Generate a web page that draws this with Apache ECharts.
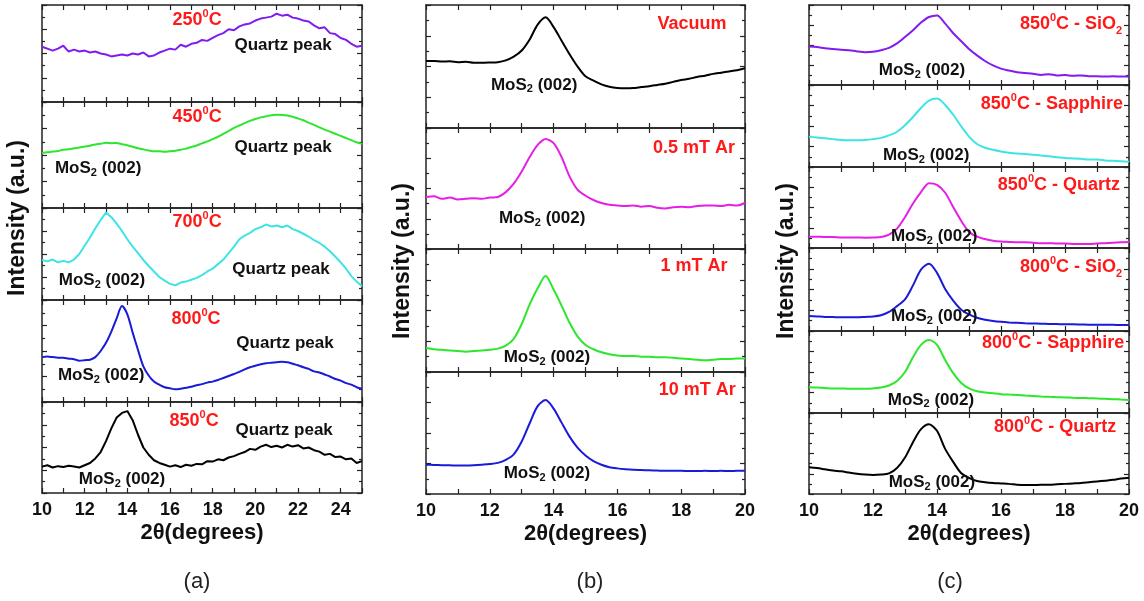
<!DOCTYPE html>
<html><head><meta charset="utf-8">
<script src="https://cdn.jsdelivr.net/npm/echarts@6/dist/echarts.min.js"></script>
<style>html,body{margin:0;padding:0;background:#fff}#c{width:1144px;height:601px}</style>
</head><body><div id="c"></div>
<script>
// ---------- DATA ----------
const X_A = [10,10.25,10.5,10.75,11,11.25,11.5,11.75,12,12.25,12.5,12.75,13,13.25,13.5,13.75,14,14.25,14.5,14.75,15,15.25,15.5,15.75,16,16.25,16.5,16.75,17,17.25,17.5,17.75,18,18.25,18.5,18.75,19,19.25,19.5,19.75,20,20.25,20.5,20.75,21,21.25,21.5,21.75,22,22.25,22.5,22.75,23,23.25,23.5,23.75,24,24.25,24.5,24.75,25];
const X_BC = [10,10.25,10.5,10.75,11,11.25,11.5,11.75,12,12.25,12.5,12.75,13,13.25,13.5,13.75,14,14.25,14.5,14.75,15,15.25,15.5,15.75,16,16.25,16.5,16.75,17,17.25,17.5,17.75,18,18.25,18.5,18.75,19,19.25,19.5,19.75,20];
const X_TICK_LABELS_A = [10,12,14,16,18,20,22,24];
const X_TICK_LABELS_BC = [10,12,14,16,18,20];

// panel (a): temperature series
const A_250 = [57,55,53,55,58, 52,54,52,53, 51,52,50,49, 47,48,49,48, 50,49,51,47, 48,51,53,55, 54,59,57,60, 61,64,63,66, 69,71,75,74, 78,80,81,84, 86,87,88,91, 89,90,87,86, 84,83,79,76, 77,71,70,66, 64,60,57,58];
const A_450 = [52,52.5,53.2,53.8,55, 55.4,56.3,57,58, 58.8,60,60.6,61.5, 61.2,61.3,60.2,59.2, 57.8,56.4,55.3,54.3, 53.5,53.6,53,53.6, 54,55,56,57.5, 59,61,62.8,65, 67.2,70,72.6,75.5, 77.8,80,82.2,84, 85.5,86.5,87.6,88, 87.8,87.2,86,84.5, 82.8,80.5,78.5,76, 74,72,70,68, 66,64,62,60.5];
const A_700 = [43.5,42,44,41,42.5, 41,44,50,59, 68,78,87,95, 90,83,75,66, 58,51,43.5,37, 31,25,21,17.5, 16,19,20,22, 24,27,31,34, 39,44,51,58, 66,70,73,77, 79,82,80,81, 79,81,77,75, 72,69,65,62, 58,53,47,41, 34,26,20,15];
const A_800 = [44,44.5,44,43.5,43.5, 42.5,42,40.5,41, 41.5,44,50,58, 69,82,94,86, 68,51,35,26, 20,17,14.5,13.5, 12.5,13,14,15, 16.5,17.5,19,20, 21.5,23.5,25.5,27.5, 29.5,32,34,35.5, 37,38,38.5,39, 39.5,39,37.5,36, 34,32.5,30,29, 27,25,22.5,21, 18.5,17,14.5,13];
const A_850 = [29,30.5,28,29.5,28.5, 30,29,28,30.5, 33,38,45,57, 71,83,88,90, 80,64,50,42, 36,33,31,29, 30.5,28.5,31,30, 32,31.5,35,34.5, 37,36,39,40.5, 43,45,48.5,47.5, 51,53,50.5,52, 50,53,51,52.5, 49,50,47,45.5, 42,43,39.5,40, 37,38,33,35];

// panel (b): pressure series
const B_VAC = [54.5,54.5,54,54.2,53.5, 53.8,53,53,53.2, 53.5,55,58,63, 72,84,90,82, 71,60,50,42, 38.5,35.5,33.5,32.5, 32.3,32.5,33.3,34, 35,36,37.5,39, 40,41.5,42.5,44, 45,46,47,48.5];
const B_05 = [43,43.5,41.5,42.5,41, 41.5,42,41.5,42.5, 43,47,54,64, 76,86,91,87.5, 76,60,49,44, 40.5,38,36.5,36, 35.5,36,35,35.5, 34,33.5,34.5,35, 34.5,35.5,36,36, 35.5,36.5,36,38];
const B_1 = [19.5,18.5,18,17.5,17, 16.5,17,17.5,18, 19,21.5,27,39, 55,68,78,67, 54,40,29,22, 18.5,16,14.5,13.5, 13,13,12.5,12.5, 12,12,11.5,11, 10.5,10,9.5,10, 10.5,10.5,11,11];
const B_10 = [24,23.8,23.6,23.5,23.4, 23.4,23.6,24,24.5, 25.5,28,32.5,43, 58,72,77,70, 58.5,47,38,31.5, 27,24,22,21, 20.3,19.8,19.6,19.4, 19.2,19,19,19, 18.9,18.9,19,18.9, 19,18.9,19,19];

// panel (c): substrate series
const C_850_SIO2 = [48,47.5,46,45,44, 43.5,42,41,41.5, 43.5,46.5,52,60, 68.5,78,85,87, 77,65,55,45, 37,30,24.5,20.5, 18,16,15,14, 12.5,13.5,12,12.5, 11.5,12,11,11, 10.5,11,10.5,10.5];
const C_850_SAP = [37,36,35,34,33, 32.5,32.5,33,34, 35.5,38.5,43,51, 61,72,81,83.5, 76,64,50,37, 28,23.5,21,19, 17.5,16.5,16,15, 14,13,12,11, 10.5,10,9,9, 8,7.5,7,6.5];
const C_850_QTZ = [14,14,13.5,13.5,13, 13,13,12.8,13, 13.5,16.5,24,38, 55,69,80,78, 68.5,51,34,20, 14,11,9,8, 7.5,7,7,6.5, 6,6,5.5,5.5, 5,4.8,5,5.5, 6,6.5,7,7.5];
const C_800_SIO2 = [18,17.5,17,16.8,16.5, 16.5,16.5,17,17.5, 19,23,30,38, 55,74,81,70, 51,37,26,20, 16,13.5,12,11, 10.3,9.8,9.3,9, 8.8,8.5,8.3,8, 8,7.8,7.6,7.6, 7.5,7.4,7.3,7.2];
const C_800_SAP = [31.5,31,30.5,30,30, 29.5,29.5,29.5,30, 31,33.5,39,50, 68,83,89,83, 65,49,37,30, 26.5,25,24,23, 22.5,22,21.3,20.8, 20.2,19.7,19.3,19, 18.6,18.3,18,17.7, 17.3,16.9,16.4,16];
const C_800_QTZ = [33,32,30.5,29,28, 26.5,25,24,23.5, 24,25.5,32,45, 64,80,86,78, 56,40,26,20, 16,14.5,13.5,13, 12.5,11.5,11,11, 11.5,11.5,12,12.5, 13,13.5,14.5,15.5, 16.5,17.5,19,20];

// annotation texts (rich markup) per sub-panel
const ANN_TEXT_A = [
  ['{r|250}{rs|0}{r|C}', '{b|Quartz peak}'],
  ['{r|450}{rs|0}{r|C}', '{b|Quartz peak}', '{b|MoS}{bs|2}{b| (002)}'],
  ['{r|700}{rs|0}{r|C}', '{b|Quartz peak}', '{b|MoS}{bs|2}{b| (002)}'],
  ['{r|800}{rs|0}{r|C}', '{b|Quartz peak}', '{b|MoS}{bs|2}{b| (002)}'],
  ['{r|850}{rs|0}{r|C}', '{b|Quartz peak}', '{b|MoS}{bs|2}{b| (002)}']
];
const ANN_TEXT_B = [
  ['{r|Vacuum}', '{b|MoS}{bs|2}{b| (002)}'],
  ['{r|0.5 mT Ar}', '{b|MoS}{bs|2}{b| (002)}'],
  ['{r|1 mT Ar}', '{b|MoS}{bs|2}{b| (002)}'],
  ['{r|10 mT Ar}', '{b|MoS}{bs|2}{b| (002)}']
];
const ANN_TEXT_C = [
  ['{r|850}{rs|0}{r|C - SiO}{rb|2}', '{b|MoS}{bs|2}{b| (002)}'],
  ['{r|850}{rs|0}{r|C - Sapphire}', '{b|MoS}{bs|2}{b| (002)}'],
  ['{r|850}{rs|0}{r|C - Quartz}', '{b|MoS}{bs|2}{b| (002)}'],
  ['{r|800}{rs|0}{r|C - SiO}{rb|2}', '{b|MoS}{bs|2}{b| (002)}'],
  ['{r|800}{rs|0}{r|C - Sapphire}', '{b|MoS}{bs|2}{b| (002)}'],
  ['{r|800}{rs|0}{r|C - Quartz}', '{b|MoS}{bs|2}{b| (002)}']
];
// annotation anchor positions in data coordinates [2theta, relative intensity]
const ANN_POS_A = [
  [[17.27,84.5],[21.3,58.8]],
  [[17.27,85.8],[21.3,57.5],[12.63,37.7]],
  [[17.27,84.8],[21.2,33.7],[12.81,21.7]],
  [[17.22,81.4],[21.39,57.8],[12.77,26.5]],
  [[17.13,79.1],[21.35,69.2],[13.75,15.4]]
];
const ANN_POS_B = [
  [[18.34,84.6],[13.39,35]],
  [[18.4,83.5],[13.64,25.6]],
  [[18.4,86.2],[13.79,12.2]],
  [[18.5,85.2],[13.79,17.2]]
];
const ANN_POS_C = [
  [[18.19,76],[13.53,18.75]],
  [[17.59,76.8],[13.66,14.6]],
  [[17.81,77.8],[13.91,14.8]],
  [[18.19,77.1],[13.91,18]],
  [[17.63,85.4],[13.81,15.9]],
  [[17.69,82.7],[13.84,14.8]]
];

// ---------- LAYOUT / STYLE ----------
const FF = '"Liberation Sans", Arial, sans-serif';
const RED = '#ff1a1a';
const INK = '#111111';
const PANELS = [
  {left:42, width:320, xmax:25, x:X_A, labels:X_TICK_LABELS_A,
   subs:[[5,97],[102,106],[208,92],[300,102],[402,91]],
   series:[[A_250,'#7f1cf0',false],[A_450,'#2ee62e',0.3],[A_700,'#3ee4e4',false],[A_800,'#1a1ad8',0.3],[A_850,'#000000',false]],
   annText:ANN_TEXT_A, annPos:ANN_POS_A},
  {left:426, width:319, xmax:20, x:X_BC, labels:X_TICK_LABELS_BC,
   subs:[[5,123],[128,121],[249,123],[372,122]],
   series:[[B_VAC,'#000000',0.3],[B_05,'#e61ee6',0.3],[B_1,'#2ee62e',0.3],[B_10,'#1a1ad8',0.3]],
   annText:ANN_TEXT_B, annPos:ANN_POS_B},
  {left:809, width:320, xmax:20, x:X_BC, labels:X_TICK_LABELS_BC,
   subs:[[5,80],[85,82],[167,81],[248,83],[331,82],[413,81]],
   series:[[C_850_SIO2,'#7f1cf0',0.3],[C_850_SAP,'#3ee4e4',0.3],[C_850_QTZ,'#e61ee6',0.3],[C_800_SIO2,'#1a1ad8',0.3],[C_800_SAP,'#2ee62e',0.3],[C_800_QTZ,'#000000',0.3]],
   annText:ANN_TEXT_C, annPos:ANN_POS_C}
];
const NB = {textBorderWidth:0, textBorderColor:'transparent', textShadowBlur:0, opacity:1};
const RICH = {
  r:Object.assign({color:RED, fontSize:18, lineHeight:24, fontWeight:'bold', fontFamily:FF}, NB),
  rs:Object.assign({color:RED, fontSize:11, lineHeight:12, fontWeight:'bold', fontFamily:FF, verticalAlign:'top'}, NB),
  rb:Object.assign({color:RED, fontSize:11, lineHeight:12, fontWeight:'bold', fontFamily:FF, verticalAlign:'bottom'}, NB),
  b:Object.assign({color:INK, fontSize:17, lineHeight:20, fontWeight:'bold', fontFamily:FF}, NB),
  bs:Object.assign({color:INK, fontSize:11, lineHeight:12, fontWeight:'bold', fontFamily:FF, verticalAlign:'bottom'}, NB)
};

const grid = [], xAxis = [], yAxis = [], series = [];
const lineAx = {show:true, onZero:false, lineStyle:{color:'#222', width:1.5}};
PANELS.forEach(p => {
  p.subs.forEach((s, k) => {
    const g = grid.length;
    const last = k === p.subs.length - 1;
    grid.push({left:p.left, width:p.width, top:s[0], height:s[1], show:false, containLabel:false, outerBoundsMode:'none'});
    xAxis.push({gridIndex:g, type:'value', position:'bottom', min:10, max:p.xmax, interval:1,
      axisLine:lineAx, splitLine:{show:false},
      axisTick:{show:true, inside:true, length:5, lineStyle:{color:'#222', width:1.2}},
      axisLabel:{show:last, margin:8, color:'#111', fontSize:18, fontWeight:'bold', fontFamily:FF,
        formatter: v => p.labels.indexOf(v) >= 0 ? String(v) : ''},
      name: last ? '2θ(degrees)' : '', nameLocation:'middle', nameGap:29,
      nameTextStyle:{color:'#111', fontSize:22, fontWeight:'bold', fontFamily:FF}});
    xAxis.push({gridIndex:g, type:'value', position:'top', min:10, max:p.xmax, interval:1,
      axisLine:lineAx, splitLine:{show:false}, axisLabel:{show:false},
      axisTick:{show:true, inside:true, length:5, lineStyle:{color:'#222', width:1.2}}});
    ['left','right'].forEach(pos => yAxis.push({gridIndex:g, type:'value', position:pos, min:0, max:100, interval:25,
      axisLine:lineAx, splitLine:{show:false}, axisLabel:{show:false},
      axisTick:{show:true, inside:true, length:5, lineStyle:{color:'#222', width:1.2}},
      minorTick:{show:true, splitNumber:2, length:3, lineStyle:{color:'#222', width:1.2}},
      minorSplitLine:{show:false}}));
    const sd = p.series[k];
    series.push({type:'line', xAxisIndex:2*g, yAxisIndex:2*g, showSymbol:false, symbol:'none',
      smooth:sd[2], data:p.x.map((xv,i)=>[xv, sd[0][i]]),
      lineStyle:{color:sd[1], width:2}, itemStyle:{color:sd[1]}, silent:true, z:2});
    series.push({type:'scatter', xAxisIndex:2*g, yAxisIndex:2*g, symbolSize:0, silent:true, z:10,
      itemStyle:{color:'#ffffff'},
      data:p.annText[k].map((t,j)=>({name:t, value:p.annPos[k][j]})),
      label:Object.assign({show:true, position:'inside', color:INK, formatter: q => q.name, rich:RICH}, NB)});
  });
});

const graphic = [
  {type:'text', x:18, y:218, rotation:Math.PI/2, style:{text:'Intensity (a.u.)', fill:'#111', fontSize:23, fontWeight:'bold', fontFamily:FF, align:'center', verticalAlign:'middle'}},
  {type:'text', x:403, y:261, rotation:Math.PI/2, style:{text:'Intensity (a.u.)', fill:'#111', fontSize:23, fontWeight:'bold', fontFamily:FF, align:'center', verticalAlign:'middle'}},
  {type:'text', x:787, y:261, rotation:Math.PI/2, style:{text:'Intensity (a.u.)', fill:'#111', fontSize:23, fontWeight:'bold', fontFamily:FF, align:'center', verticalAlign:'middle'}},
  {type:'text', x:197, y:582, style:{text:'(a)', fill:'#222', fontSize:22, fontFamily:FF, align:'center', verticalAlign:'middle'}},
  {type:'text', x:590, y:582, style:{text:'(b)', fill:'#222', fontSize:22, fontFamily:FF, align:'center', verticalAlign:'middle'}},
  {type:'text', x:950, y:582, style:{text:'(c)', fill:'#222', fontSize:22, fontFamily:FF, align:'center', verticalAlign:'middle'}}
];

const chart = echarts.init(document.getElementById('c'), null, {renderer:'canvas'});
chart.setOption({animation:false, backgroundColor:'#fff', grid, xAxis, yAxis, series, graphic});
</script>
</body></html>
